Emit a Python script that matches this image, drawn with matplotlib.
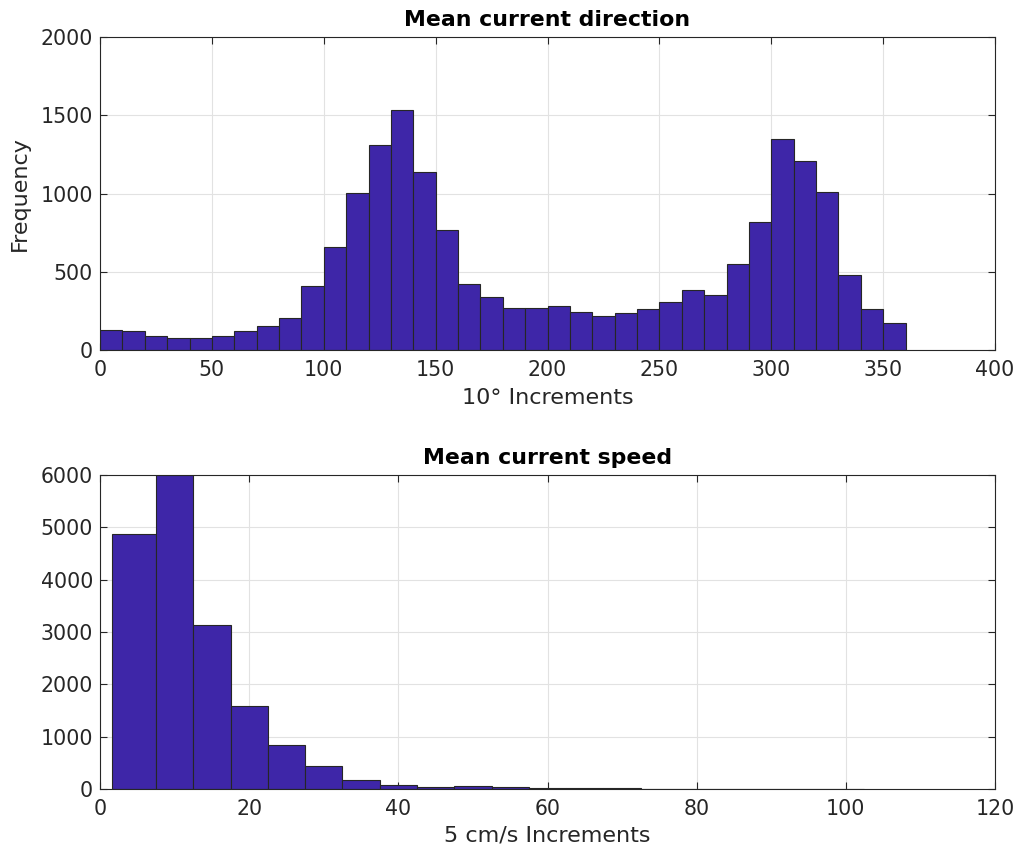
import numpy as np
import matplotlib
matplotlib.use('Agg')
import matplotlib.pyplot as plt

# direction histogram, 10 deg bins
dir_edges = np.arange(0, 370, 10)
dir_counts = [128, 121, 92, 79, 77, 87, 124, 156, 204, 407,
              658, 1004, 1308, 1536, 1139, 764, 420, 341, 268, 268,
              281, 243, 219, 234, 261, 305, 386, 352, 547, 820,
              1348, 1210, 1008, 479, 263, 172]

# speed histogram, 5 cm/s bins
spd_edges = [1.6, 7.5, 12.5, 17.5, 22.5, 27.5, 32.5, 37.5, 42.5, 47.5, 52.5,
             57.5, 62.5, 67.5, 72.5, 77.5, 82.5, 87.5, 92.5, 97.5, 102.5]
spd_counts = [4880, 6000, 3125, 1590, 832, 445, 181, 84, 45, 55,
              32, 25, 13, 20, 6, 5, 4, 3, 3, 3]

face = '#3E26A8'
edge = '#262626'
txt = '#262626'

plt.rcParams['font.family'] = 'DejaVu Sans'

fig = plt.figure(figsize=(10.14, 8.48), dpi=100)
W, H = 1014, 848
ax1 = fig.add_axes([100 / W, 1 - 350 / H, 895 / W, 313 / H])
ax2 = fig.add_axes([100 / W, 1 - 789 / H, 895 / W, 314 / H])


def style(ax):
    ax.grid(True, color='#e2e2e2', linewidth=0.8)
    ax.set_axisbelow(True)
    ax.tick_params(direction='in', top=True, right=True, colors=txt,
                   labelsize=14.8, length=5)
    ax.tick_params(axis='x', pad=7)
    ax.tick_params(axis='y', pad=5)
    for s in ax.spines.values():
        s.set_color(txt)
        s.set_linewidth(0.8)


def hbar(ax, edges, counts):
    edges = np.asarray(edges, dtype=float)
    ax.bar(edges[:-1], counts, width=np.diff(edges), align='edge',
           color=face, edgecolor=edge, linewidth=0.8)


hbar(ax1, dir_edges, dir_counts)
ax1.set_xlim(0, 400)
ax1.set_ylim(0, 2000)
ax1.set_xticks(np.arange(0, 401, 50))
ax1.set_yticks(np.arange(0, 2001, 500))
ax1.set_title('Mean current direction', fontweight='bold', fontsize=15.8, pad=8)
ax1.set_xlabel('10° Increments', fontsize=16, color=txt, labelpad=6)
ax1.set_ylabel('Frequency', fontsize=16, color=txt, labelpad=8)
style(ax1)

hbar(ax2, spd_edges, spd_counts)
ax2.set_xlim(0, 120)
ax2.set_ylim(0, 6000)
ax2.set_xticks(np.arange(0, 121, 20))
ax2.set_yticks(np.arange(0, 6001, 1000))
ax2.set_title('Mean current speed', fontweight='bold', fontsize=15.8, pad=8)
ax2.set_xlabel('5 cm/s Increments', fontsize=16, color=txt, labelpad=5)
style(ax2)

fig.savefig('out.png', dpi=100)
